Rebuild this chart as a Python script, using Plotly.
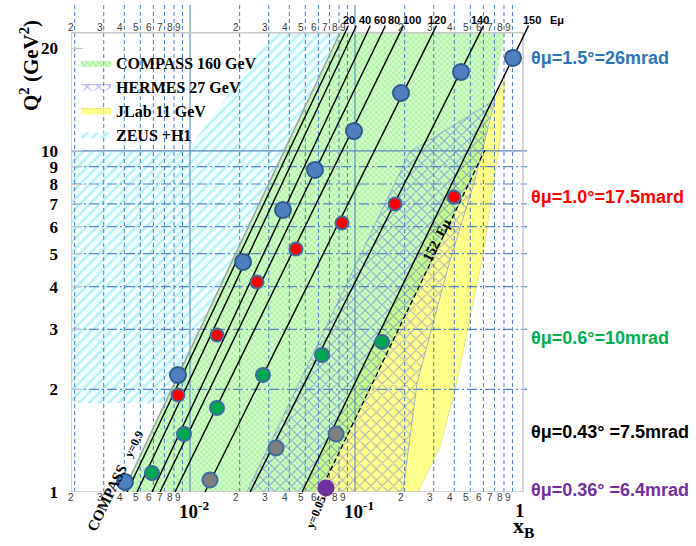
import numpy as np
import plotly.graph_objects as go

# ---------------- data ----------------
# kinematic regions: polygon vertices (x_B, Q^2)
compass_x = [0.00393, 0.0811, 0.811, 0.581, 0.06136]
compass_q2 = [1.0, 22.2, 22.2, 9.41, 1.0]
hermes_x = [0.0221, 0.215, 0.705, 0.533, 0.377, 0.238, 0.195]
hermes_q2 = [1.0, 9.93, 14.1, 8.2, 4.79, 2.09, 1.0]
jlab_x = [0.0477, 0.811, 0.757, 0.597, 0.404, 0.327, 0.241]
jlab_q2 = [1.0, 16.2, 10.8, 4.95, 1.99, 1.355, 1.0]
zeus_x = [0.0019, 0.0019, 0.00959, 0.03184, 0.0811, 0.00705]
zeus_q2 = [1.82, 10.0, 10.0, 22.2, 22.2, 1.82]

# constant scattered-muon-energy lines (E_mu')
emu_labels = ["20", "40", "60", "80", "100", "120", "140", "150"]
emu_x_bottom = [0.004150, 0.004775, 0.005888, 0.006577, 0.008109, 0.01233, 0.02312, 0.04775]
emu_x_top = [0.09109, 0.1018, 0.1238, 0.1528, 0.1965, 0.3118, 0.6009, 1.127]
emu_q2_bottom = 1.0
emu_q2_top = 23.3
emu_label_x = [0.0925, 0.1150, 0.1410, 0.1715, 0.2200, 0.3141, 0.5723, 1.182]

# y = 0.9 boundary and 152 GeV (dashed) line
y09_x = [0.00393, 0.0811]
y09_q2 = [1.0, 22.2]
e152_x = [0.06136, 0.6136]
e152_q2 = [1.0, 10.07]

# points at constant muon angle
blue_x = [0.004036, 0.008458, 0.02096, 0.03661, 0.05721, 0.09861, 0.19, 0.4389, 0.9070]
blue_q2 = [1.070, 2.203, 4.727, 6.714, 8.796, 11.44, 14.79, 17.05, 18.74]
red_x = [0.003713, 0.008458, 0.01458, 0.02547, 0.04389, 0.08340, 0.1748, 0.3981]
red_q2 = [0.993, 1.925, 2.886, 4.129, 5.160, 6.150, 6.991, 7.331]
green_x = [0.005884, 0.009196, 0.01458, 0.02769, 0.0631, 0.1458]
green_q2 = [1.137, 1.479, 1.764, 2.203, 2.522, 2.754]
gray_x = [0.01322, 0.03320, 0.07673]
gray_q2 = [1.084, 1.346, 1.479]
purple_x = [0.06672]
purple_q2 = [1.027]

theta_labels = ["θμ=1.5°=26mrad", "θμ=1.0°=17.5mard", "θμ=0.6°=10mrad",
                "θμ=0.43° =7.5mrad", "θμ=0.36° =6.4mrad"]
theta_colors = ["#2E75B6", "#FF0000", "#00B050", "#000000", "#7030A0"]
theta_ypx = [58, 197, 338, 432, 490]

y_ticks = [1, 2, 3, 4, 5, 6, 7, 8, 9, 10, 20]
x_digits = [2, 3, 4, 5, 6, 7, 8, 9]
x_decades = [-3, -2, -1]
h_grid = [2, 3, 4, 5, 6, 7, 8, 9]

# ---------------- layout geometry ----------------
W, H = 696, 546
L, R, T, B = 71, 156, 5, 54
XR = [-2.7212, 0.1212]
YR = [0.0, 1.428]
PW, PH = W - L - R, H - T - B


def paper(px, py):
    return (px - L) / PW, (H - B - py) / PH


fig = go.Figure()

SERIF = "Liberation Serif"
SANS = "Liberation Sans"

# regions (draw order: ZEUS, JLab, COMPASS, HERMES)
fig.add_trace(go.Scatter(
    x=zeus_x, y=zeus_q2, fill="toself", mode="lines", line=dict(width=0),
    fillcolor="rgba(0,0,0,0)",
    fillpattern=dict(shape="/", fgcolor="#74E6F0", bgcolor="rgba(235,252,253,0.6)", size=7, solidity=0.33),
    name="<b>ZEUS +H1</b>", legendrank=4, hoverinfo="skip"))
fig.add_trace(go.Scatter(
    x=jlab_x, y=jlab_q2, fill="toself", mode="lines", line=dict(width=0.6, color="#D8D860"),
    fillcolor="rgba(255,255,120,0.85)",
    name="<b>JLab 11 GeV</b>", legendrank=3, hoverinfo="skip"))
fig.add_trace(go.Scatter(
    x=compass_x, y=compass_q2, fill="toself", mode="lines", line=dict(width=0),
    fillcolor="rgba(0,0,0,0)",
    fillpattern=dict(shape="x", fgcolor="#4EDE4E", bgcolor="rgba(175,246,155,0.55)", size=4, solidity=0.3),
    name="<b>COMPASS 160 GeV</b>", legendrank=1, hoverinfo="skip"))
fig.add_trace(go.Scatter(
    x=hermes_x, y=hermes_q2, fill="toself", mode="lines", line=dict(width=0.8, color="rgba(90,100,220,0.6)"),
    fillcolor="rgba(0,0,0,0)",
    fillpattern=dict(shape="x", fgcolor="rgba(70,80,235,0.9)", bgcolor="rgba(0,0,0,0)", size=8, solidity=0.24),
    name="<b>HERMES 27 GeV</b>", legendrank=2, hoverinfo="skip"))

# grid lines
gx, gy = [], []
for k in x_decades:
    for d in x_digits:
        v = d * 10.0 ** k
        if np.log10(v) < XR[0]:
            continue
        gx += [v, v, None]
        gy += [1.0, 10 ** YR[1], None]
fig.add_trace(go.Scatter(x=gx, y=gy, mode="lines", line=dict(color="#4A7CC4", width=1, dash="4px,3px"),
                         showlegend=False, hoverinfo="skip"))
fig.add_trace(go.Scatter(x=[0.01, 0.01, None, 0.1, 0.1], y=[1.0, 10 ** YR[1], None, 1.0, 10 ** YR[1]],
                         mode="lines", line=dict(color="#4A7CC4", width=1), showlegend=False, hoverinfo="skip"))
hx, hy = [], []
for q in h_grid:
    hx += [10 ** XR[0], 1.10, None]
    hy += [q, q, None]
fig.add_trace(go.Scatter(x=hx, y=hy, mode="lines", line=dict(color="#5B86C2", width=1.2, dash="10px,3px,2px,3px"),
                         showlegend=False, hoverinfo="skip"))
fig.add_trace(go.Scatter(x=[10 ** XR[0], 1.10], y=[10, 10], mode="lines", line=dict(color="#5B86C2", width=1.3),
                         showlegend=False, hoverinfo="skip"))

# frame
fig.add_trace(go.Scatter(x=[10 ** XR[0], 1.043, 1.043, 10 ** XR[0], 10 ** XR[0]],
                         y=[1.0, 1.0, 22.2, 22.2, 1.0], mode="lines",
                         line=dict(color="#C8C8C8", width=1.5), showlegend=False, hoverinfo="skip"))

# y=0.9 boundary, E' lines, 152 dashed
fig.add_trace(go.Scatter(x=y09_x, y=y09_q2, mode="lines", line=dict(color="#A0A0A0", width=1.5),
                         showlegend=False, hoverinfo="skip"))
lx, ly = [], []
for xb, xt in zip(emu_x_bottom, emu_x_top):
    lx += [xb, xt, None]
    ly += [emu_q2_bottom, emu_q2_top, None]
fig.add_trace(go.Scatter(x=lx, y=ly, mode="lines", line=dict(color="black", width=1.4),
                         showlegend=False, hoverinfo="skip", cliponaxis=False))
fig.add_trace(go.Scatter(x=e152_x, y=e152_q2, mode="lines", line=dict(color="black", width=1.3, dash="5px,3px"),
                         showlegend=False, hoverinfo="skip"))


# points
def dots(xs, ys, color, size, border):
    fig.add_trace(go.Scatter(x=xs, y=ys, mode="markers", cliponaxis=False,
                             marker=dict(color=color, size=size,
                                         line=dict(color=border, width=2 if border else 0)),
                             showlegend=False, hoverinfo="skip"))


dots(blue_x, blue_q2, "#4F7FBF", 16, "#2F5A8F")
dots(red_x, red_q2, "#FF0000", 13, "#3F6C9E")
dots(green_x, green_q2, "#00A84F", 14, "#3F6C9E")
dots(gray_x, gray_q2, "#7F7F7F", 15, "#3F6C9E")
dots(purple_x, purple_q2, "#7030A0", 17, None)

ann = []
# x tick digits (bottom and top)
for k in x_decades:
    for d in x_digits:
        lv = np.log10(d * 10.0 ** k)
        if lv < XR[0] - 0.01:
            continue
        for yy in (paper(0, 497)[1], paper(0, 27)[1]):
            ann.append(dict(x=lv, xref="x", y=yy, yref="paper", text=str(d), showarrow=False,
                            xanchor="right", yanchor="middle", xshift=1,
                            font=dict(family=SANS, size=10, color="#404040")))
for lv, txt in [(-2, "<b>10</b><sup><b>-2</b></sup>"), (-1, "<b>10</b><sup><b>-1</b></sup>"), (0, "<b>1</b>")]:
    ann.append(dict(x=lv, xref="x", y=paper(0, 510)[1], yref="paper", text=txt, showarrow=False,
                    xanchor="center", yanchor="middle", xshift=4 if lv < 0 else 0,
                    font=dict(family=SERIF, size=19, color="black")))
# top E' labels
for lab, xv in zip(emu_labels, emu_label_x):
    ann.append(dict(x=np.log10(xv), xref="x", y=paper(0, 20)[1], yref="paper", text="<b>%s</b>" % lab,
                    showarrow=False, xanchor="center", yanchor="middle",
                    font=dict(family=SANS, size=11, color="black")))
ann.append(dict(x=paper(557, 0)[0], xref="paper", y=paper(0, 20)[1], yref="paper", text="<b>Eμ</b>",
                showarrow=False, xanchor="center", yanchor="middle",
                font=dict(family=SANS, size=11, color="black")))
# angle labels
for t, c, py in zip(theta_labels, theta_colors, theta_ypx):
    ann.append(dict(x=paper(529, 0)[0], xref="paper", y=paper(0, py)[1], yref="paper", text="<b>%s</b>" % t,
                    showarrow=False, xanchor="left", yanchor="middle",
                    font=dict(family=SANS, size=18, color=c)))


def rot(px, py, text, angle, size, family=SERIF):
    ann.append(dict(x=paper(px, 0)[0], xref="paper", y=paper(0, py)[1], yref="paper", text=text,
                    showarrow=False, textangle=angle, xanchor="center", yanchor="middle",
                    font=dict(family=family, size=size, color="black")))


rot(107, 498, "<b>COMPASS</b>", -64, 15)
rot(134, 444, "<b>y=0.9</b>", -63, 12)
rot(316, 512, "<b>y=0.05</b>", -68, 12)
rot(437, 241, "<b>152  Eμ</b>", -62, 14)
# axis titles
rot(523, 527, "<b>x<sub>B</sub></b>", 0, 22)
rot(29, 66, "<b>Q<sup>2</sup> (GeV<sup>2</sup>)</b>", -90, 21)

fig.update_layout(
    width=W, height=H, margin=dict(l=L, r=R, t=T, b=B, autoexpand=False),
    paper_bgcolor="white", plot_bgcolor="white",
    xaxis=dict(type="log", range=XR, visible=False, showgrid=False, zeroline=False),
    yaxis=dict(type="log", range=YR, tickvals=y_ticks, ticktext=["<b>%d</b>" % v for v in y_ticks],
               tickfont=dict(family=SERIF, size=17, color="black"), ticks="inside", ticklen=12,
               tickcolor="#C8C8C8", showgrid=False, zeroline=False, showline=False,
               ticklabelstandoff=12, automargin=False),
    legend=dict(x=paper(76, 0)[0], y=paper(0, 46)[1], xanchor="left", yanchor="top",
                bgcolor="rgba(0,0,0,0)", font=dict(family=SERIF, size=16, color="black"),
                traceorder="normal", itemwidth=30, tracegroupgap=0),
    annotations=ann,
    showlegend=True,
)
fig.write_html("out.html", config={"displayModeBar": False},
               post_script="document.body.style.margin='0';")
